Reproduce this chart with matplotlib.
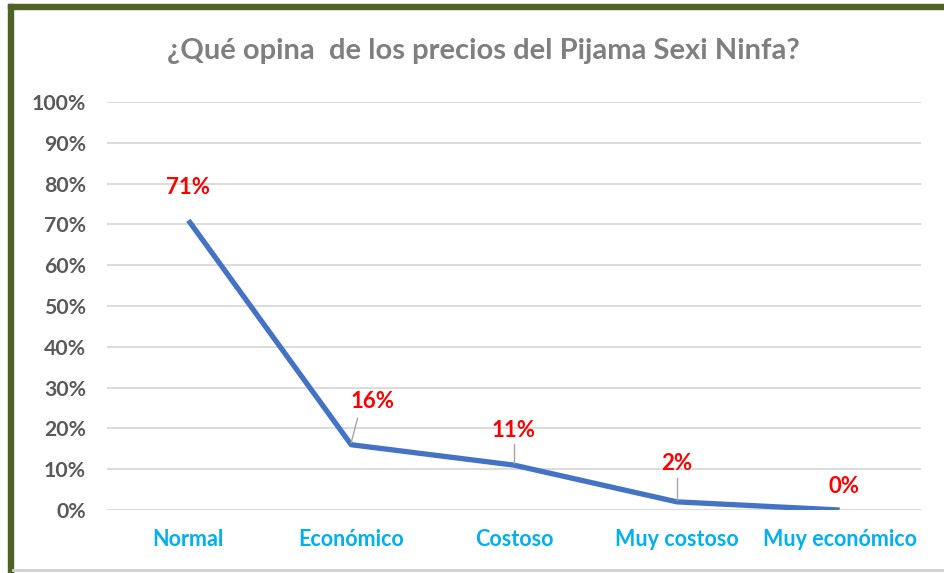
import matplotlib
matplotlib.use("Agg")
import matplotlib.pyplot as plt
from matplotlib.patches import Rectangle
from matplotlib.lines import Line2D

categories = ["Normal", "Económico", "Costoso", "Muy costoso", "Muy económico"]
values = [0.71, 0.16, 0.11, 0.02, 0.00]
labels = ["71%", "16%", "11%", "2%", "0%"]
yticks = [0, 0.1, 0.2, 0.3, 0.4, 0.5, 0.6, 0.7, 0.8, 0.9, 1.0]
ytick_labels = ["0%", "10%", "20%", "30%", "40%", "50%", "60%", "70%", "80%", "90%", "100%"]
title = "¿Qué opina  de los precios del Pijama Sexi Ninfa?"

# label offsets in data units (dx, dy) and whether a leader line is drawn
label_offsets = [(0.0, 0.08), (0.13, 0.105), (0.0, 0.085), (0.0, 0.093), (0.03, 0.058)]
leaders = [False, True, True, True, False]

plt.rcParams['font.family'] = ['Lato', 'DejaVu Sans']

W, H = 944, 573
fig = plt.figure(figsize=(W / 100, H / 100), dpi=100)
fig.patch.set_facecolor("white")

# plot area in pixels: x 107..921, y 102..510
ax = fig.add_axes([107 / W, 1 - 510 / H, (921 - 107) / W, (510 - 102) / H])
x = list(range(len(categories)))
ax.plot(x, values, color="#4472C4", lw=3.8, solid_capstyle="butt", zorder=3)
ax.set_xlim(-0.5, len(categories) - 0.5)
ax.set_ylim(0, 1.0)
ax.set_yticks(yticks)
ax.set_yticklabels(ytick_labels)
ax.set_xticks(x)
ax.set_xticklabels(categories)
ax.grid(axis="y", color="#D9D9D9", lw=1.3)
ax.set_axisbelow(True)
for s in ax.spines.values():
    s.set_visible(False)
ax.tick_params(length=0)
ax.tick_params(axis="y", pad=15, labelsize=15.3, labelcolor="#595959")
ax.tick_params(axis="x", pad=14, labelsize=15.5, labelcolor="#00B0F0")
for t in ax.get_xticklabels() + ax.get_yticklabels():
    t.set_fontweight("bold")

for i, (v, lab) in enumerate(zip(values, labels)):
    dx, dy = label_offsets[i]
    ax.text(i + dx, v + dy, lab, color="#FF0000", fontsize=16, fontweight="bold",
            ha="center", va="center", zorder=4)
    if leaders[i]:
        ax.plot([i, i + dx * 0.3], [v + 0.005, v + dy * 0.62], color="#A6A6A6", lw=1.0, zorder=4)

fig.text(483 / W, 1 - 51 / H, title, color="#7F7F7F", fontsize=21,
         fontweight="bold", ha="center", va="center")

# green frame (left and top) and gray bottom edge
fig.add_artist(Rectangle((8 / W, 0), 5 / W, 1 - 4 / H, transform=fig.transFigure,
                         color="#4F6228", zorder=10))
fig.add_artist(Rectangle((8 / W, 1 - 9 / H), 1, 5 / H, transform=fig.transFigure,
                         color="#4F6228", zorder=10))
fig.add_artist(Line2D([13 / W, 1], [1 - 570 / H, 1 - 570 / H], transform=fig.transFigure,
                      color="#D0D0D0", lw=2, zorder=10))

fig.savefig("out.png", dpi=100)
